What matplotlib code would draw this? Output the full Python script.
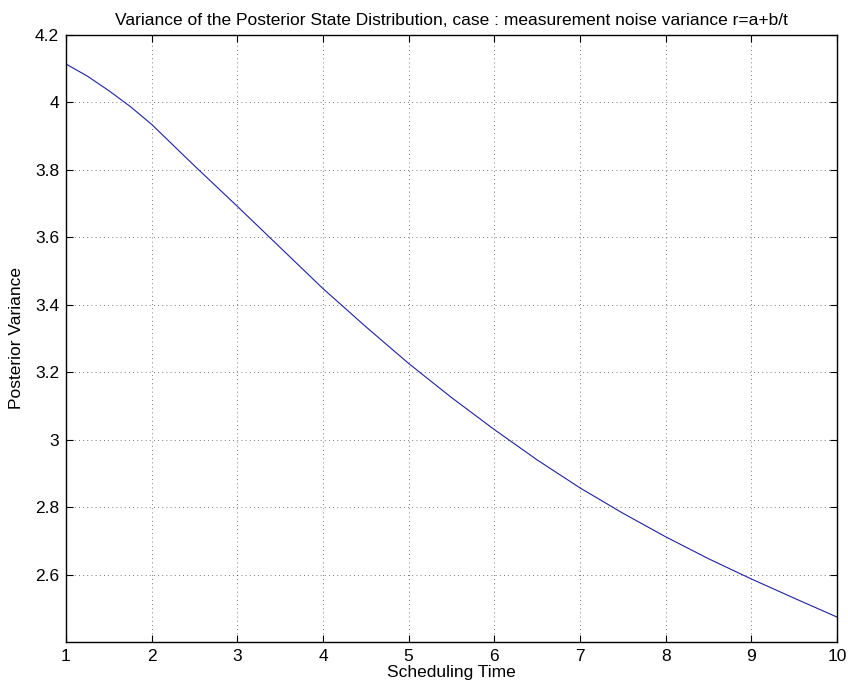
import matplotlib
matplotlib.use('Agg')
import matplotlib.pyplot as plt
import numpy as np

plt.rcParams['font.family'] = ['Liberation Sans', 'DejaVu Sans']

# Posterior variance
sched_time = [1, 1.25, 1.5, 1.75, 2, 2.5, 3, 3.5, 4, 4.5, 5, 5.5, 6, 6.5, 7, 7.5, 8, 8.5, 9, 9.5, 10]
post_var = [4.114, 4.078, 4.035, 3.988, 3.935, 3.812, 3.692, 3.57, 3.448, 3.335, 3.226, 3.125,
            3.03, 2.94, 2.857, 2.782, 2.712, 2.647, 2.587, 2.53, 2.474]

x_ticks = [1, 2, 3, 4, 5, 6, 7, 8, 9, 10]
y_ticks = [2.6, 2.8, 3.0, 3.2, 3.4, 3.6, 3.8, 4.0, 4.2]
y_labels = ['2.6', '2.8', '3', '3.2', '3.4', '3.6', '3.8', '4', '4.2']

fig = plt.figure(figsize=(8.48, 6.93), dpi=100)
ax = fig.add_axes([0.0778, 0.0736, 0.9092, 0.8759])

ax.plot(sched_time, post_var, color='#2020a0', linewidth=0.8)

ax.set_xlim(1, 10)
ax.set_ylim(2.4, 4.2)
ax.set_xticks(x_ticks)
ax.set_yticks(y_ticks)
ax.set_yticklabels(y_labels)
ax.tick_params(direction='in', top=True, right=True, length=5, width=0.8,
               labelsize=12.5, pad=5)
ax.grid(True, linestyle=(0, (1, 4)), color='black', linewidth=0.6, alpha=0.7)
for s in ax.spines.values():
    s.set_linewidth(1.0)

ax.set_title('Variance of the Posterior State Distribution, case : measurement noise variance r=a+b/t',
             fontsize=12.5, pad=7)
ax.set_xlabel('Scheduling Time', fontsize=12.5, labelpad=1)
ax.set_ylabel('Posterior Variance', fontsize=12.5, labelpad=8)

fig.savefig('out.png', dpi=100)
